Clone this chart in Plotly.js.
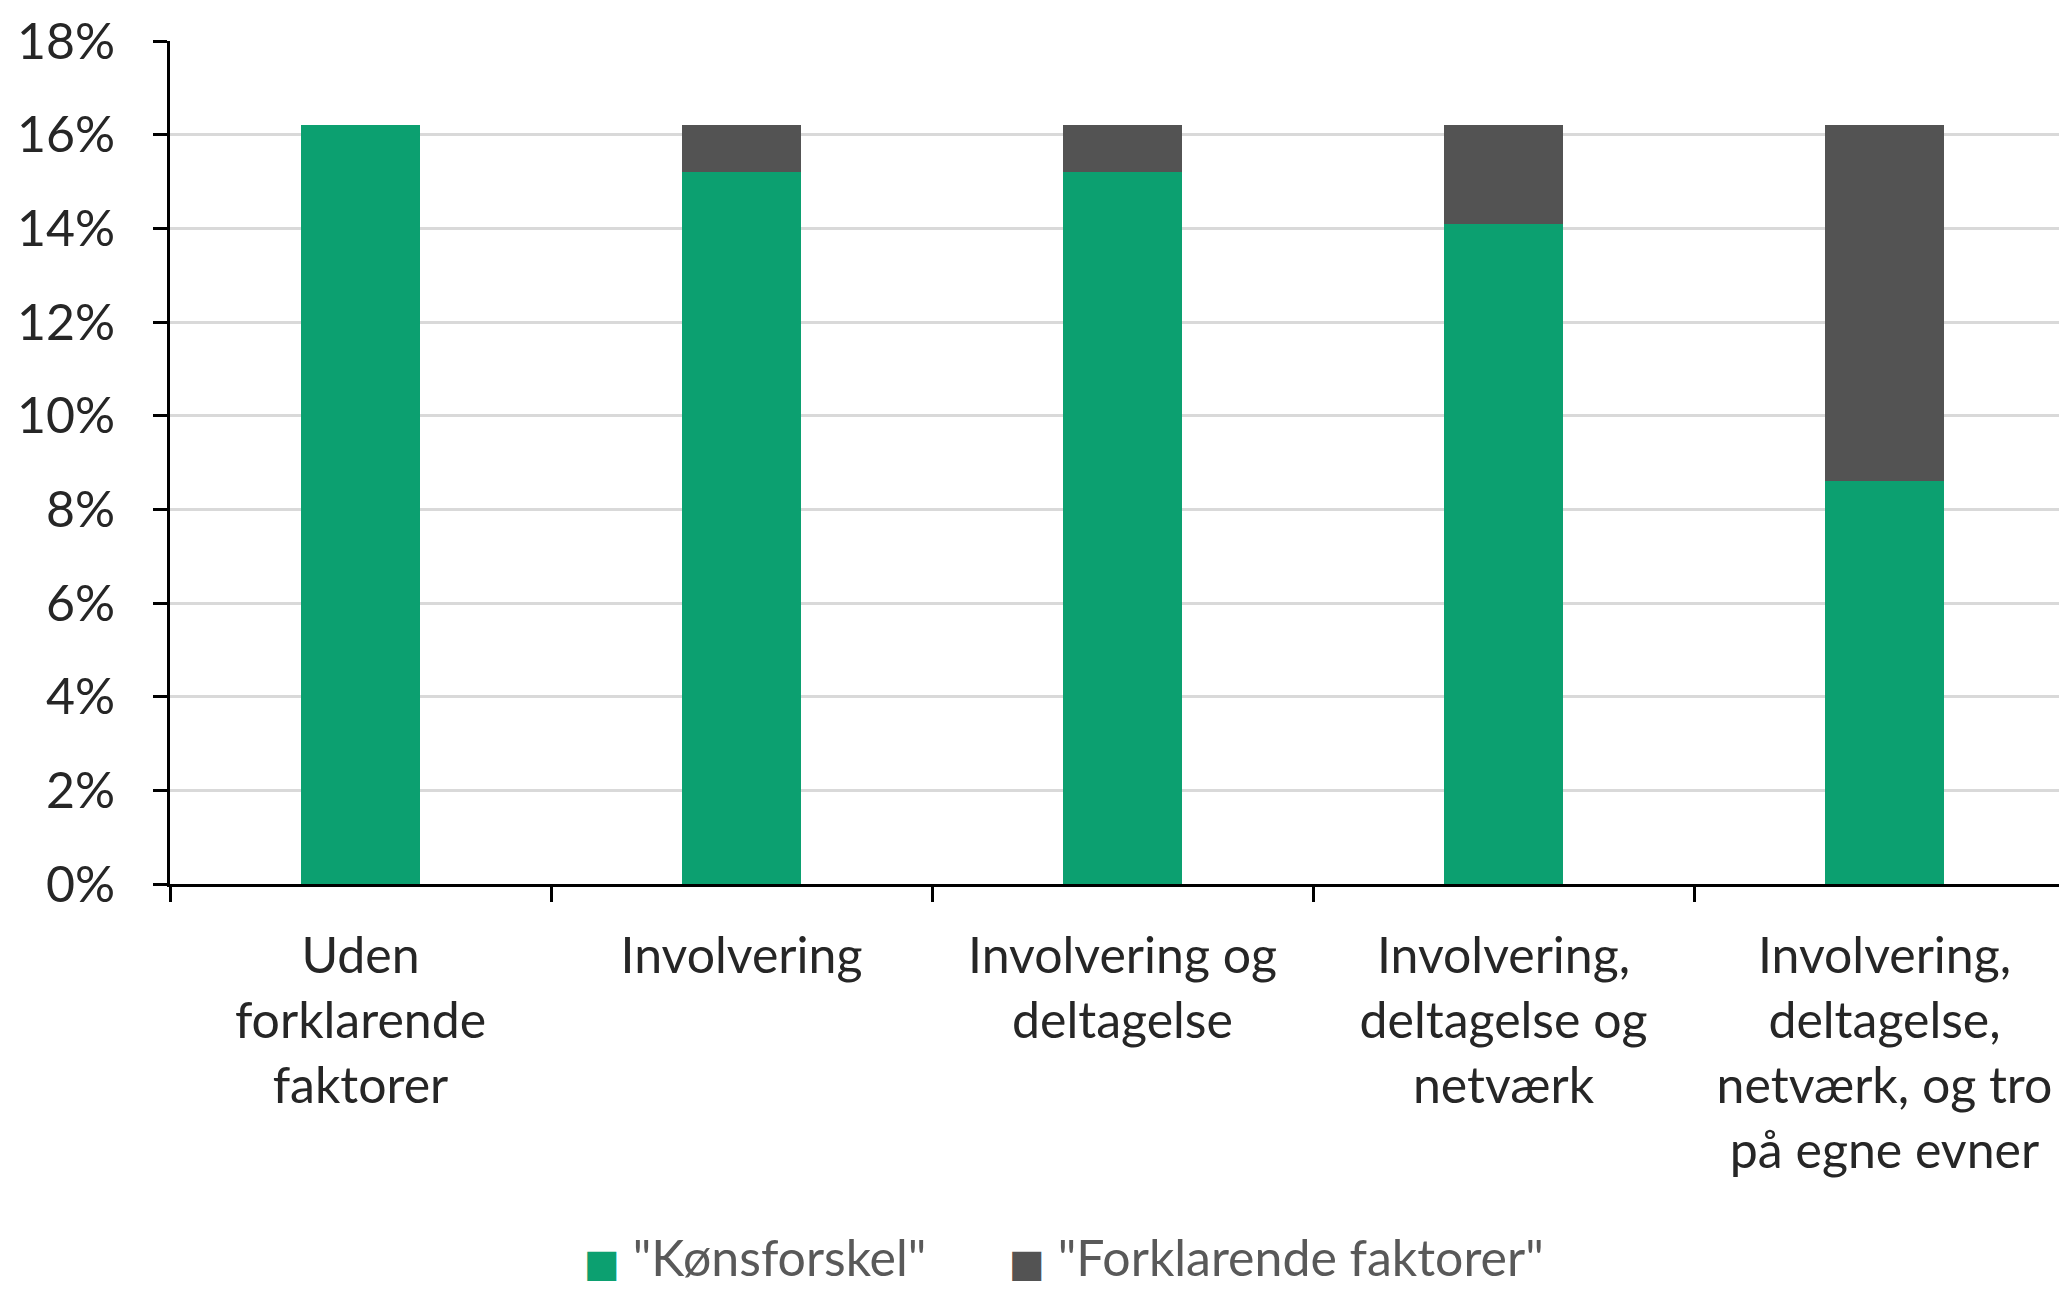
<!DOCTYPE html>
<html>
<head>
<meta charset="utf-8">
<script src="https://cdn.plot.ly/plotly-3.0.1.min.js"></script>
<style>
html,body{margin:0;padding:0;background:#fff;}
#chart{width:2059px;height:1289px;}
</style>
</head>
<body>
<div id="chart"></div>
<script>
var categories = [
  "Uden<br>forklarende<br>faktorer",
  "Involvering",
  "Involvering og<br>deltagelse",
  "Involvering,<br>deltagelse og<br>netværk",
  "Involvering,<br>deltagelse,<br>netværk, og tro<br>på egne evner"
];
var koensforskel = [16.2, 15.2, 15.2, 14.1, 8.6];
var forklarende = [0, 1.0, 1.0, 2.1, 7.6];
var seriesNames = ['"Kønsforskel"', '"Forklarende faktorer"'];
var seriesColors = ["#0CA070", "#535353"];
var yTicks = [0, 2, 4, 6, 8, 10, 12, 14, 16, 18];
var yTickLabels = ["0%", "2%", "4%", "6%", "8%", "10%", "12%", "14%", "16%", "18%"];

var FONT = "Lato, 'Open Sans', sans-serif";
var FS = 50;

var traces = [
  {type: "bar", name: seriesNames[0], x: categories, y: koensforskel,
   marker: {color: seriesColors[0]}, hoverinfo: "y"},
  {type: "bar", name: seriesNames[1], x: categories, y: forklarende,
   marker: {color: seriesColors[1]}, hoverinfo: "y"}
];

function legendText(i) {
  return '<span style="color:' + seriesColors[i] + ';font-family:DejaVu Sans;font-size:38px">■</span>\u00a0' + seriesNames[i];
}

var layout = {
  width: 2059, height: 1289,
  margin: {l: 170, r: 0, t: 41, b: 405, pad: 0},
  paper_bgcolor: "#ffffff", plot_bgcolor: "#ffffff",
  barmode: "stack",
  bargap: 0.69,
  font: {family: FONT, size: FS, color: "#262626"},
  showlegend: false,
  annotations: [
    {xref: "paper", yref: "paper", x: 0.218, y: -0.443, xanchor: "left", yanchor: "middle",
     showarrow: false, text: legendText(0), font: {family: FONT, size: FS, color: "#595959"}},
    {xref: "paper", yref: "paper", x: 0.443, y: -0.443, xanchor: "left", yanchor: "middle",
     showarrow: false, text: legendText(1), font: {family: FONT, size: FS, color: "#595959"}}
  ],
  xaxis: {
    type: "category", range: [-0.5, 4.458],
    showline: true, linecolor: "#000", linewidth: 3,
    ticks: "outside", tickson: "boundaries", ticklen: 15, tickwidth: 3, tickcolor: "#000",
    showgrid: false, zeroline: false,
    ticklabelstandoff: 26,
    tickfont: {family: FONT, size: FS, color: "#262626"},
    tickangle: 0
  },
  yaxis: {
    range: [0, 18], tickmode: "array", tickvals: yTicks, ticktext: yTickLabels,
    showline: true, linecolor: "#000", linewidth: 3,
    ticks: "outside", ticklen: 14, tickwidth: 3, tickcolor: "#000",
    showgrid: true, gridcolor: "#d9d9d9", gridwidth: 3,
    zeroline: false,
    ticklabelstandoff: 28,
    tickfont: {family: FONT, size: FS, color: "#262626"}
  }
};

Plotly.newPlot("chart", traces, layout, {staticPlot: true, displayModeBar: false});
</script>
</body>
</html>
